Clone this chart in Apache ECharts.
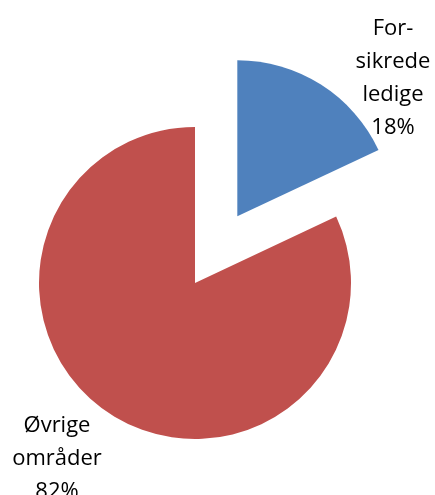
<!DOCTYPE html>
<html>
<head>
<meta charset="utf-8">
<style>
  html, body { margin: 0; padding: 0; background: #fff; }
  #chart { width: 435px; height: 495px; }
</style>
<script src="https://cdn.jsdelivr.net/npm/echarts@6/dist/echarts.min.js"></script>
</head>
<body>
<div id="chart"></div>
<script>
// slices, clockwise from 12 o'clock
var categories = ["For-\nsikrede\nledige", "Øvrige\nområder"];
var shares = [18, 82];
var colors = ["#4F81BD", "#C0504D"];
var exploded = [true, false];

var chart = echarts.init(document.getElementById("chart"));

var labelSpots = [[393, 78], [57, 459]];

var pieBase = {
    type: "pie",
    center: [195, 283],
    radius: 156,
    startAngle: 90,
    clockwise: true,
    avoidLabelOverlap: false,
    emphasis: { disabled: true },
    labelLine: { show: false }
};

chart.setOption({
    animation: false,
    series: [
        // the slices
        Object.assign({}, pieBase, {
            selectedMode: "multiple",
            selectedOffset: 79,
            label: { show: false },
            data: categories.map(function (name, i) {
                return {
                    name: name,
                    value: shares[i],
                    selected: exploded[i],
                    itemStyle: { color: colors[i] }
                };
            })
        }),
        // the labels (same data, no fill, nothing exploded)
        Object.assign({}, pieBase, {
            silent: true,
            itemStyle: { color: "rgba(0,0,0,0)" },
            label: {
                show: true,
                position: "inside",
                formatter: "{b}\n{c}%",
                fontFamily: "Open Sans",
                fontSize: 22,
                lineHeight: 33,
                color: "#000",
                align: "center"
            },
            labelLayout: function (p) {
                var s = labelSpots[p.dataIndex];
                return { x: s[0], y: s[1], align: "center", verticalAlign: "middle" };
            },
            data: categories.map(function (name, i) {
                return { name: name, value: shares[i] };
            })
        })
    ]
});
</script>
</body>
</html>
